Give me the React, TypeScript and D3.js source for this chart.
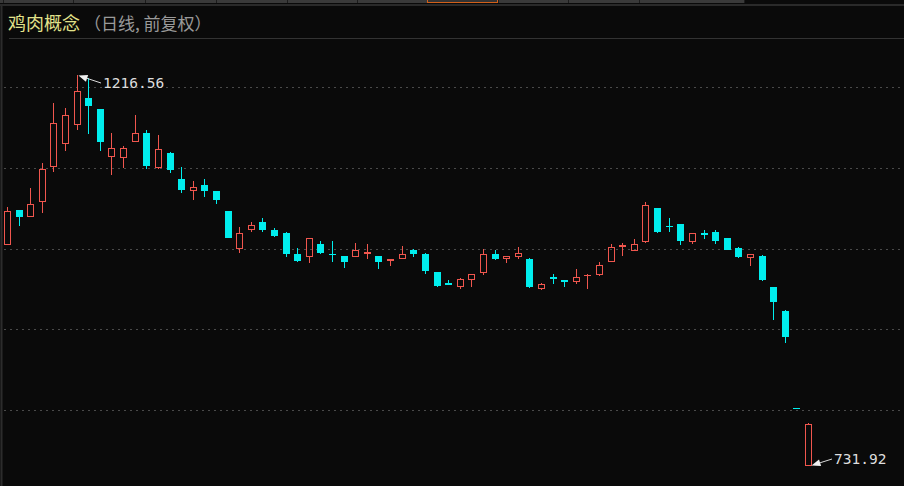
import * as d3 from 'd3';
import React, { useEffect } from 'react';

// candle values (70 sessions)
const openP = [1005.2, 1048.6, 1040.3, 1058.9, 1101.5, 1130.4, 1154.0, 1187.1, 1173.8, 1114.7,
  1113.1, 1133.3, 1144.4, 1100.3, 1119.7, 1086.7, 1072.2, 1079.6, 1071.8, 1047.4,
  1000.7, 1023.9, 1034.1, 1023.5, 1019.8, 993.5, 990.0, 1006.5, 993.7, 991.6,
  990.4, 993.7, 991.6, 985.1, 988.3, 999.0, 993.7, 971.4, 958.5, 952.8,
  962.2, 970.2, 993.7, 988.3, 990.4, 987.6, 951.3, 966.0, 961.9, 959.0,
  966.4, 968.4, 984.6, 1003.2, 997.8, 1008.6, 1051.1, 1028.8, 1030.9, 1008.6,
  1019.8, 1021.8, 1013.9, 1001.2, 988.8, 991.9, 952.8, 923.1, 803.0, 731.92];
const highP = [1052.7, 1049.0, 1075.5, 1106.5, 1181.6, 1175.4, 1216.56, 1211.9, 1174.4, 1144.4,
  1128.0, 1166.4, 1147.8, 1141.6, 1120.3, 1101.3, 1084.6, 1086.7, 1072.3, 1047.9,
  1027.2, 1034.1, 1038.3, 1026.7, 1021.4, 1000.9, 1013.9, 1010.2, 1010.2, 992.1,
  1008.1, 1006.5, 992.1, 988.4, 1004.4, 1000.7, 995.0, 971.9, 961.5, 963.9,
  969.3, 999.9, 999.0, 991.6, 1002.8, 989.4, 957.8, 969.3, 962.3, 975.1,
  968.8, 984.2, 1006.5, 1007.4, 1012.3, 1058.2, 1051.6, 1038.3, 1031.3, 1020.2,
  1023.9, 1023.5, 1014.3, 1002.8, 993.9, 992.3, 953.3, 924.7, 803.0, 785.0];
const lowP = [1004.8, 1028.8, 1039.8, 1044.5, 1096.1, 1122.1, 1147.8, 1142.8, 1122.1, 1092.0,
  1100.7, 1132.9, 1099.1, 1099.9, 1094.9, 1070.1, 1061.0, 1064.4, 1055.7, 1013.8,
  995.7, 1021.8, 1021.8, 1014.8, 990.0, 983.8, 982.6, 993.7, 984.2, 977.1,
  990.0, 987.9, 975.1, 979.2, 987.9, 990.0, 969.7, 952.8, 955.3, 950.7,
  952.8, 967.7, 986.3, 982.6, 987.9, 951.9, 949.5, 956.5, 952.8, 956.5,
  951.1, 967.2, 984.2, 992.0, 997.4, 1008.2, 1019.8, 1021.8, 1005.2, 1006.5,
  1012.7, 1006.5, 999.0, 989.6, 979.2, 960.3, 911.9, 884.2, 802.6, 731.92];
const closeP = [1047.4, 1040.3, 1056.4, 1099.1, 1156.8, 1166.4, 1196.1, 1177.9, 1133.3, 1125.5,
  1125.1, 1144.4, 1103.2, 1123.9, 1098.2, 1073.4, 1077.5, 1072.2, 1061.0, 1014.3,
  1019.8, 1030.4, 1023.9, 1016.4, 994.1, 986.0, 1013.5, 995.7, 992.5, 984.6,
  998.7, 996.6, 984.6, 987.9, 993.7, 993.7, 973.4, 954.4, 955.7, 963.5,
  968.9, 993.7, 988.3, 991.2, 995.3, 953.0, 956.3, 962.7, 959.4, 965.2,
  968.4, 980.1, 1002.4, 1005.6, 1006.5, 1054.8, 1021.4, 1027.6, 1010.6, 1019.8,
  1018.0, 1010.6, 999.4, 990.0, 993.5, 962.1, 934.2, 891.6, 802.6, 783.4];

const gridLevels = [1200, 1100, 1000, 900, 800];
const tabEdges = [3, 73, 145, 216, 287, 357, 427, 498, 568, 639, 744];
const activeTab = 6;

const title = '鸡肉概念';
const subTitle = '（日线, 前复权）';

const W = 904;
const H = 486;
const RED = '#f0564e';
const CYAN = '#00eeee';

const App = () => {
  useEffect(() => {
    document.body.style.margin = '0';
    document.body.style.background = '#0a0a0a';
  }, []);

  const n = openP.length;
  const xScale = d3.scaleLinear().domain([0, n - 1]).range([7.5, 808.5]);
  const yScale = d3.scaleLinear().domain([731.92, 1216.56]).range([465.5, 74.5]);

  const iHigh = d3.maxIndex(highP);
  const iLow = d3.minIndex(lowP);

  // arrow + label for the extreme prices
  const marker = (tip, tail, label, key) => {
    const dx = tip[0] - tail[0];
    const dy = tip[1] - tail[1];
    const len = Math.hypot(dx, dy);
    const ux = dx / len, uy = dy / len;
    const bx = tip[0] - ux * 9, by = tip[1] - uy * 9;
    const pts = [tip, [bx - uy * 3.5, by + ux * 3.5], [bx + uy * 3.5, by - ux * 3.5]];
    return (
      <g key={key}>
        <line x1={bx} y1={by} x2={tail[0]} y2={tail[1]} stroke="#d8d8d8" strokeWidth={1} />
        <polygon points={pts.map(p => p.join(',')).join(' ')} fill="#f0f0f0" />
        <text x={tail[0] + 2} y={tail[1] + 5} fill="#dedede" fontSize={14.5}
          fontFamily="'DejaVu Sans Mono', 'Liberation Mono', monospace">{label}</text>
      </g>
    );
  };

  const hx = Math.floor(xScale(iHigh));
  const hy = Math.round(yScale(highP[iHigh]));
  const lx = Math.floor(xScale(iLow));
  const ly = Math.round(yScale(lowP[iLow]));

  return (
    <svg width={W} height={H} style={{ position: 'absolute', left: 0, top: 0, background: '#0a0a0a' }}>
      <rect x={0} y={0} width={W} height={H} fill="#0a0a0a" />

      {/* tab strip at the top */}
      <rect x={0} y={0} width={tabEdges[tabEdges.length - 1]} height={3} fill="#3a3a3a" />
      {tabEdges.map((e, i) => (
        <line key={'t' + i} x1={e + 0.5} x2={e + 0.5} y1={0} y2={3} stroke="#1c1c1c" />
      ))}
      <rect x={tabEdges[activeTab] + 0.5} y={-1} width={tabEdges[activeTab + 1] - tabEdges[activeTab] - 1}
        height={3.5} fill="#333" stroke="#d2601a" strokeWidth={1} />
      <rect x={0} y={4} width={W} height={2} fill="#2a2a2a" />

      {/* left border and title separator */}
      <line x1={1.5} x2={1.5} y1={6} y2={H} stroke="#2c2c2c" strokeWidth={2} />
      <line x1={9} x2={W} y1={38.5} y2={38.5} stroke="#333" strokeWidth={1} />

      <text x={8} y={30} fill="#e2e28a" fontSize={18} fontFamily="'Noto Sans CJK SC', sans-serif">{title}</text>
      <text x={84} y={30} fill="#9a9a9a" fontSize={17} fontFamily="'Noto Sans CJK SC', sans-serif">{subTitle}</text>

      {/* dotted price grid */}
      {gridLevels.map(v => (
        <line key={'g' + v} x1={4} x2={W} y1={Math.floor(yScale(v)) + 0.5} y2={Math.floor(yScale(v)) + 0.5}
          stroke="#4a4a4a" strokeWidth={1} strokeDasharray="2 4" />
      ))}

      {/* candles */}
      {openP.map((o, i) => {
        const c = closeP[i];
        const up = c > o;
        const cx = Math.floor(xScale(i));
        const yH = Math.round(yScale(highP[i]));
        const yL = Math.round(yScale(lowP[i]));
        const yT = Math.round(yScale(Math.max(o, c)));
        const yB = Math.max(Math.round(yScale(Math.min(o, c))), yT + 1);
        if (up) {
          return (
            <g key={i} stroke={RED} strokeWidth={1} fill="none">
              {yH < yT && <line x1={cx + 0.5} x2={cx + 0.5} y1={yH} y2={yT} />}
              {yL > yB && <line x1={cx + 0.5} x2={cx + 0.5} y1={yB} y2={yL} />}
              <rect x={cx - 2.5} y={yT + 0.5} width={6} height={yB - yT - 1 > 0 ? yB - yT - 1 : 0.01} />
            </g>
          );
        }
        return (
          <g key={i}>
            <line x1={cx + 0.5} x2={cx + 0.5} y1={yH} y2={Math.max(yL, yB)} stroke={CYAN} strokeWidth={1} />
            <rect x={cx - 3} y={yT} width={7} height={yB - yT} fill={CYAN} />
          </g>
        );
      })}

      {marker([hx + 1.5, hy + 0.5], [101, 83], highP[iHigh].toFixed(2), 'hi')}
      {marker([lx + 3.5, ly - 0.5], [832, 459], lowP[iLow].toFixed(2), 'lo')}
    </svg>
  );
};

export default App;
